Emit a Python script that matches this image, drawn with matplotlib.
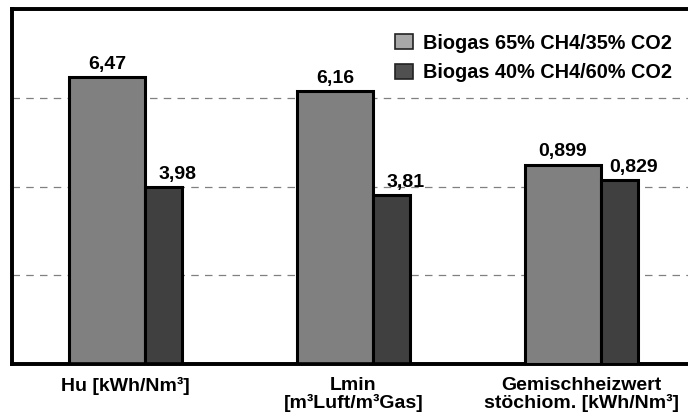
import numpy as np
import matplotlib.pyplot as plt
from matplotlib.patches import Patch

plt.rcParams['font.family'] = ['Liberation Sans', 'DejaVu Sans']
plt.rcParams['font.weight'] = 'bold'

categories = ["Hu [kWh/Nm³]", "Lmin\n[m³Luft/m³Gas]", "Gemischheizwert\nstöchiom. [kWh/Nm³]"]
series = ["Biogas 65% CH4/35% CO2", "Biogas 40% CH4/60% CO2"]
biogas_65 = [6.47, 6.16, 0.899]
biogas_40 = [3.98, 3.81, 0.829]
colors = ["#808080", "#404040"]

w1 = 0.333
w2 = 0.162
x = np.arange(len(categories))

fig = plt.figure(figsize=(6.88, 4.19), dpi=100)
ax = fig.add_axes([0.0174, 0.131, 0.9826, 0.8475])
# last group (mixture heating value) uses its own, 5x finer scale
ax2 = ax.twinx()

for a, idx in ((ax, [0, 1]), (ax2, [2])):
    for i in idx:
        b1 = a.bar(x[i], biogas_65[i], width=w1, align='edge', color=colors[0],
                   edgecolor='black', linewidth=2.2, zorder=3)
        b2 = a.bar(x[i] + w1, biogas_40[i], width=w2, align='edge', color=colors[1],
                   edgecolor='black', linewidth=2.2, zorder=3)
        for bar, v, dx in ((b1[0], biogas_65[i], 0), (b2[0], biogas_40[i], 10)):
            a.annotate(f"{v:g}".replace('.', ','),
                       (bar.get_x() + bar.get_width() / 2, bar.get_height()),
                       xytext=(dx, 3), textcoords='offset points',
                       ha='center', va='bottom', fontsize=14, fontweight='bold')

ax.set_xlim(-0.25, 2.715)
ax.set_ylim(0, 8)
ax2.set_ylim(0, 1.6)

ax.set_yticks([2, 4, 6])
ax.yaxis.grid(True, color='#808080', linestyle=(0, (6, 5)), linewidth=0.9, zorder=0)
ax.set_axisbelow(True)
ax.tick_params(axis='y', length=0, labelleft=False)
ax2.set_yticks([])

ax.set_xticks(x + (w1 + w2) / 2)
ax.set_xticklabels(categories, fontsize=14, fontweight='bold', linespacing=1.05)
ax.tick_params(axis='x', length=0, pad=9)

for a in (ax, ax2):
    a.spines['right'].set_visible(False)
    for s in ('left', 'top', 'bottom'):
        a.spines[s].set_linewidth(2.6)

handles = [Patch(facecolor='#a8a8a8', edgecolor='#222222', linewidth=1.2),
           Patch(facecolor='#505050', edgecolor='#222222', linewidth=1.2)]
ax2.legend(handles, series, loc='upper right', bbox_to_anchor=(0.976, 0.931),
           frameon=False, borderpad=0, borderaxespad=0,
           handlelength=0.9, handleheight=0.72, handletextpad=0.5,
           labelspacing=0.55, prop={'weight': 'bold', 'size': 14.3})

fig.savefig("out.png", dpi=100)
